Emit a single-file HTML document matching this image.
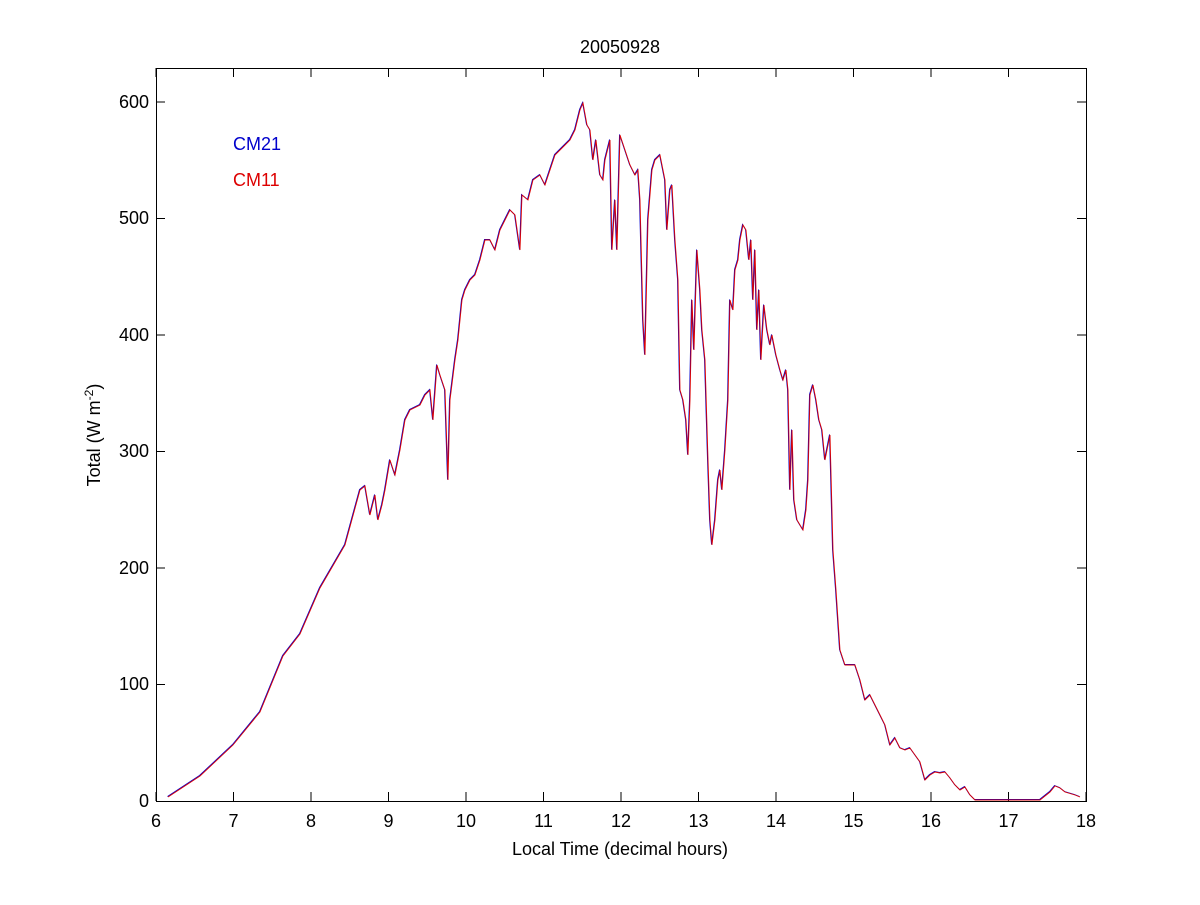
<!DOCTYPE html>
<html><head><style>body{margin:0;background:#fff}svg text{font-family:"Liberation Sans",sans-serif}</style></head><body>
<svg width="1200" height="900" xmlns="http://www.w3.org/2000/svg">
<rect width="1200" height="900" fill="#fff"/>
<g stroke="#000" stroke-width="1" fill="none">
<rect x="156.5" y="68.5" width="930" height="733"/>
<path d="M156,801v-9M233.5,801v-9M311,801v-9M388.5,801v-9M466,801v-9M543.5,801v-9M621,801v-9M698.5,801v-9M776,801v-9M853.5,801v-9M931,801v-9M1008.5,801v-9M1086,801v-9
M156,68v9M233.5,68v9M311,68v9M388.5,68v9M466,68v9M543.5,68v9M621,68v9M698.5,68v9M776,68v9M853.5,68v9M931,68v9M1008.5,68v9
M156,684.5h9M156,568h9M156,451.5h9M156,335h9M156,218.5h9M156,102h9
M1086,684.5h-9M1086,568h-9M1086,451.5h-9M1086,335h-9M1086,218.5h-9M1086,102h-9"/>
</g>
<g font-size="18" text-anchor="middle">
<text x="156" y="827">6</text><text x="233.5" y="827">7</text><text x="311" y="827">8</text><text x="388.5" y="827">9</text><text x="466" y="827">10</text><text x="543.5" y="827">11</text><text x="621" y="827">12</text><text x="698.5" y="827">13</text><text x="776" y="827">14</text><text x="853.5" y="827">15</text><text x="931" y="827">16</text><text x="1008.5" y="827">17</text><text x="1086" y="827">18</text>
</g>
<g font-size="18" text-anchor="end">
<text x="149" y="807">0</text><text x="149" y="690">100</text><text x="149" y="574">200</text><text x="149" y="457">300</text><text x="149" y="341">400</text><text x="149" y="224">500</text><text x="149" y="108">600</text>
</g>
<text x="620" y="53" font-size="18" text-anchor="middle">20050928</text>
<text x="620" y="855" font-size="18" text-anchor="middle">Local Time (decimal hours)</text>
<text transform="translate(100,435) rotate(-90)" font-size="18" text-anchor="middle">Total (W m<tspan dy="-7" font-size="12">-2</tspan><tspan dy="7">)</tspan></text>
<text x="233" y="150" font-size="18" fill="#0000cc">CM21</text>
<text x="233" y="186" font-size="18" fill="#dd0000">CM11</text>
<polyline id="d" transform="translate(-0.5,-0.5)" fill="none" stroke="#0000cc" stroke-width="0.9" points="168,797 200,776 233,745 260,712 283,656 300,634 320,588 345,545 360,490 365,486 370,515 375,495 378,520 382,505 385,490 390,460 395,475 400,450 405,420 410,410 420,405 425,395 430,390 433,420 437,365 440,375 445,390 448,480 450,400 455,360 458,340 462,300 465,290 470,280 475,275 480,260 485,240 490,240 495,250 500,230 505,220 510,210 515,215 520,250 522,195 528,200 533,180 540,175 545,185 550,170 555,155 560,150 565,145 570,140 575,130 580,110 583,103 587,125 590,130 593,160 596,140 600,175 603,180 605,160 610,140 612,250 615,200 617,250 620,135 625,150 630,165 635,175 638,170 640,200 643,320 645,355 648,220 652,170 655,160 660,155 665,180 667,230 670,190 672,185 675,240 678,280 680,390 683,400 686,420 688,455 690,400 692,300 694,350 697,250 700,290 702,330 705,360 708,460 710,520 712,545 715,520 718,480 720,470 722,490 725,450 728,400 730,300 733,310 735,270 738,260 740,240 743,225 746,230 749,260 751,240 753,300 755,250 757,330 759,290 761,360 764,305 767,330 770,345 772,335 776,355 780,370 783,380 786,370 788,390 790,490 792,430 794,500 797,520 800,525 803,530 806,510 808,480 810,395 813,385 816,400 819,420 822,430 825,460 827,450 830,435 833,550 836,590 840,650 845,665 850,665 855,665 860,680 865,700 870,695 875,705 880,715 885,725 890,745 895,738 900,748 905,750 910,748 915,755 920,762 925,780 930,775 935,772 940,773 945,772 950,778 955,785 960,790 965,787 970,795 975,800 1040,800 1050,792 1055,786 1060,788 1065,792 1075,795 1080,797"/>
<polyline fill="none" stroke="#dd0000" stroke-width="0.9" points="168,797 200,776 233,745 260,712 283,656 300,634 320,588 345,545 360,490 365,486 370,515 375,495 378,520 382,505 385,490 390,460 395,475 400,450 405,420 410,410 420,405 425,395 430,390 433,420 437,365 440,375 445,390 448,480 450,400 455,360 458,340 462,300 465,290 470,280 475,275 480,260 485,240 490,240 495,250 500,230 505,220 510,210 515,215 520,250 522,195 528,200 533,180 540,175 545,185 550,170 555,155 560,150 565,145 570,140 575,130 580,110 583,103 587,125 590,130 593,160 596,140 600,175 603,180 605,160 610,140 612,250 615,200 617,250 620,135 625,150 630,165 635,175 638,170 640,200 643,320 645,355 648,220 652,170 655,160 660,155 665,180 667,230 670,190 672,185 675,240 678,280 680,390 683,400 686,420 688,455 690,400 692,300 694,350 697,250 700,290 702,330 705,360 708,460 710,520 712,545 715,520 718,480 720,470 722,490 725,450 728,400 730,300 733,310 735,270 738,260 740,240 743,225 746,230 749,260 751,240 753,300 755,250 757,330 759,290 761,360 764,305 767,330 770,345 772,335 776,355 780,370 783,380 786,370 788,390 790,490 792,430 794,500 797,520 800,525 803,530 806,510 808,480 810,395 813,385 816,400 819,420 822,430 825,460 827,450 830,435 833,550 836,590 840,650 845,665 850,665 855,665 860,680 865,700 870,695 875,705 880,715 885,725 890,745 895,738 900,748 905,750 910,748 915,755 920,762 925,780 930,775 935,772 940,773 945,772 950,778 955,785 960,790 965,787 970,795 975,800 1040,800 1050,792 1055,786 1060,788 1065,792 1075,795 1080,797"/>
</svg>
</body></html>
